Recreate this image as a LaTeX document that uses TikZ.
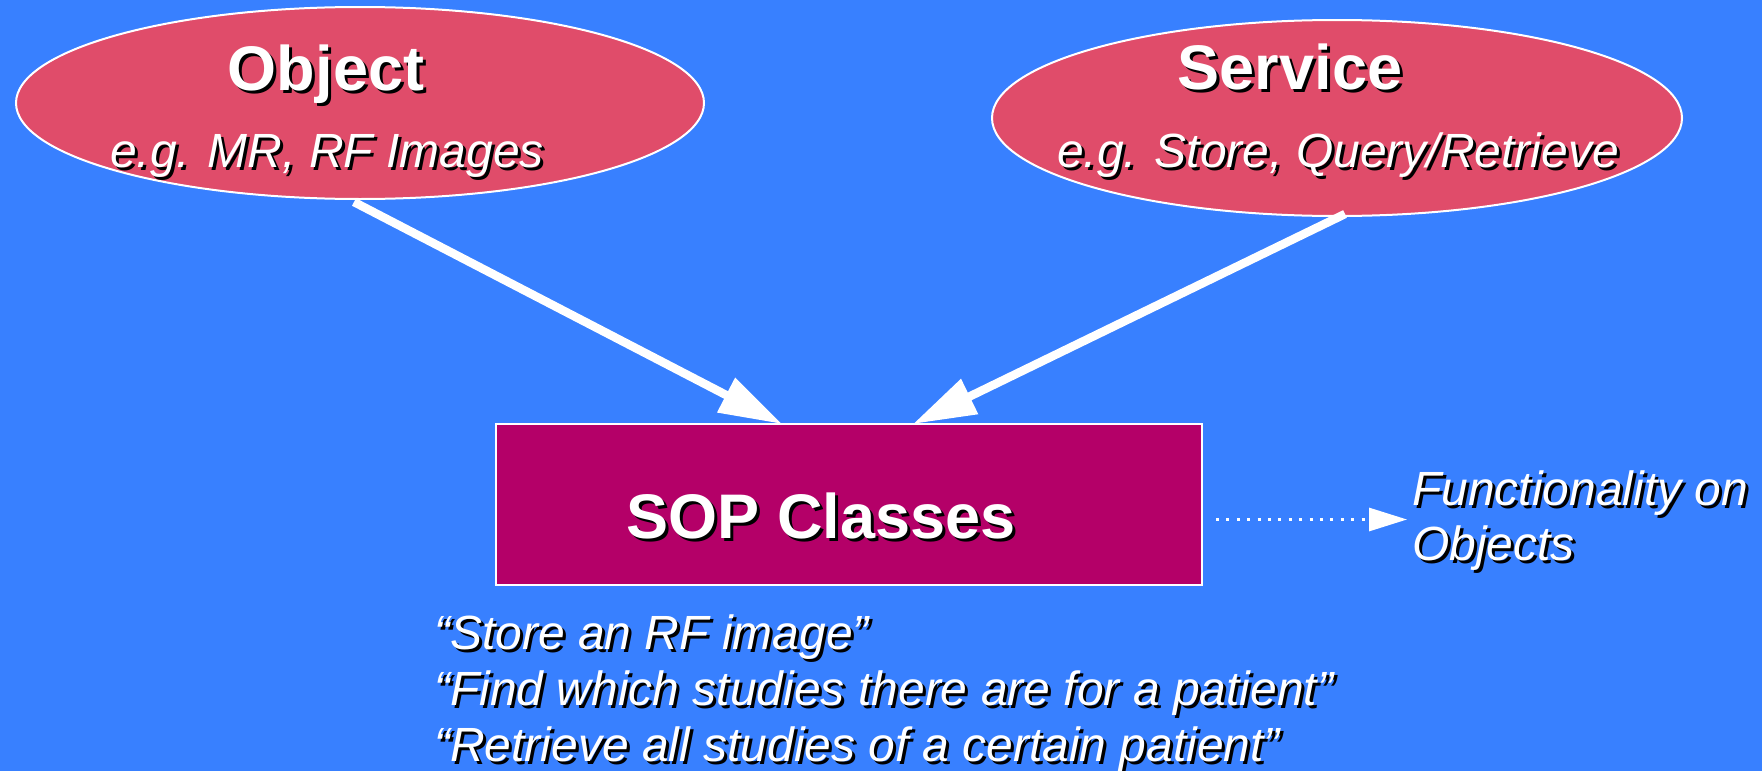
\documentclass[tikz,border=0pt]{standalone}
\usepackage{fontspec}
\setmainfont{Liberation Sans}
\usetikzlibrary{arrows.meta,shapes.geometric}
\definecolor{bg}{RGB}{56,128,255}
\definecolor{ellc}{RGB}{224,76,106}
\definecolor{sopc}{RGB}{180,0,104}
\newcommand\shd[1]{\leavevmode\makebox[0pt][l]{\kern3pt\raisebox{-3pt}{\color{black}#1}}#1}
\begin{document}
\begin{tikzpicture}[x=1pt,y=-1pt,
  bigtxt/.style={font=\fontsize{63}{75}\selectfont\bfseries, text=white, inner sep=0pt, anchor=base},
  itxt/.style={font=\fontsize{48}{57}\selectfont\itshape, text=white, inner sep=0pt, anchor=base},
  ellbox/.style={ellipse, draw=white, line width=2pt, fill=ellc, inner sep=0pt},
  conn/.style={draw=white, line width=8.5pt, -{Triangle[length=63pt,width=37pt]}},
  dotconn/.style={draw=white, line width=3pt, dash pattern=on 3pt off 7.4pt, -{Triangle[length=38pt,width=23pt]}}]
\path[fill=bg, use as bounding box] (0,0) rectangle (1762,771);
% ellipses
\node[ellbox, minimum width=688pt, minimum height=192pt] (obj) at (360,103) {};
\node[ellbox, minimum width=690pt, minimum height=196pt] (srv) at (1337,118) {};
% SOP box
\node[draw=white, line width=2pt, fill=sopc, minimum width=706pt, minimum height=161pt, inner sep=0pt] (sop) at (849,504.5) {};
% texts
\node[bigtxt] (objt) at (326,90) {\shd{Object}};
\node[itxt] (objs) at (327,167) {\shd{e.g. MR, RF Images}};
\node[bigtxt] (srvt) at (1290,89) {\shd{Service}};
\node[itxt] (srvs) at (1338,167) {\shd{e.g. Store, Query/Retrieve}};
\node[bigtxt] (sopt) at (821,538) {\shd{SOP Classes}};
\node[itxt, anchor=base west] (fn1) at (1412,505) {\shd{Functionality on}};
\node[itxt, anchor=base west] (fn2) at (1412,560) {\shd{Objects}};
\node[itxt, anchor=base west] (ex1) at (434,649) {\shd{“Store an RF image”}};
\node[itxt, anchor=base west] (ex2) at (434,705) {\shd{“Find which studies there are for a patient”}};
\node[itxt, anchor=base west] (ex3) at (434,761) {\shd{“Retrieve all studies of a certain patient”}};
% connectors
\coordinate (tipA) at (782,424);
\coordinate (tipB) at (913,424);
\coordinate (srcA) at (354,202);
\coordinate (srcB) at (1345,214);
\coordinate (d0) at (1216,519.5);
\coordinate (d1) at (1407,519.5);
\draw[conn] (srcA) -- (tipA);
\draw[conn] (srcB) -- (tipB);
\draw[dotconn] (d0) -- (d1);
\end{tikzpicture}
\end{document}
